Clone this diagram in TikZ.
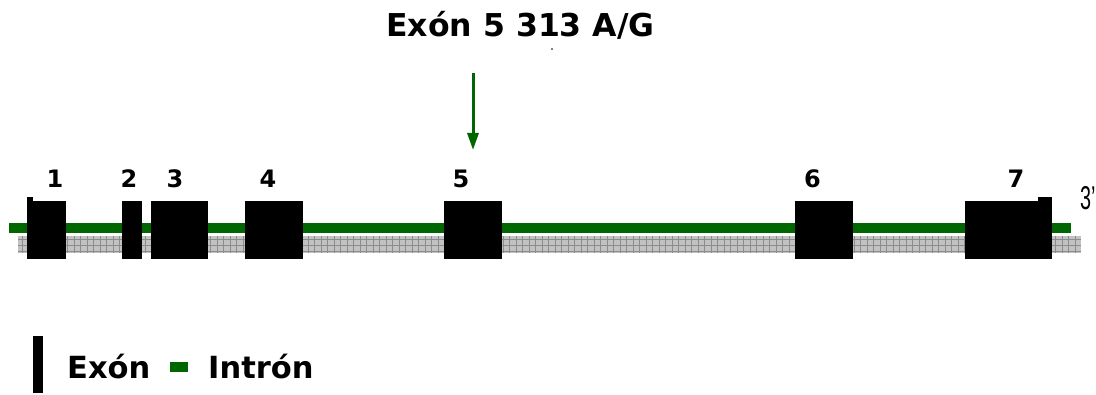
\documentclass[tikz,border=0pt]{standalone}
\usepackage{fontspec}
\setmainfont{DejaVu Sans}
\newfontfamily\narrowfont{Liberation Sans}
\usetikzlibrary{arrows.meta}
\definecolor{igreen}{RGB}{0,102,0}
\definecolor{hgray}{RGB}{194,194,194}
\definecolor{hline}{RGB}{140,140,140}
\begin{document}
\begin{tikzpicture}[x=1pt,y=-1pt,
  exon/.style={fill=black, draw=none, inner sep=0pt, minimum height=58pt},
  num/.style={font=\fontsize{24}{24}\selectfont\bfseries, anchor=base, inner sep=0pt},
  big/.style={font=\fontsize{31.5}{31.5}\selectfont\bfseries, inner sep=0pt},
  leg/.style={font=\fontsize{30.5}{30.5}\selectfont\bfseries, inner sep=0pt}]
\useasboundingbox (0,0) rectangle (1096,395);
% grey hatched band
\fill[hgray] (18,236) rectangle (1081,253);
\foreach \x in {22,28.5,...,1080} \draw[hline, line width=0.6pt] (\x,236) -- (\x,253);
\foreach \y in {239,245,251} \draw[hline, line width=0.6pt] (18,\y) -- (1081,\y);
% intron line
\fill[igreen] (9,223) rectangle (1071,233);
% exons
\node[exon, minimum width=39pt] (e1) at (46.5,230) {};
\fill (27,197) rectangle (33,201);
\node[exon, minimum width=20pt] (e2) at (132,230) {};
\node[exon, minimum width=57pt] (e3) at (179.5,230) {};
\node[exon, minimum width=58pt] (e4) at (274,230) {};
\node[exon, minimum width=58pt] (e5) at (473,230) {};
\node[exon, minimum width=58pt] (e6) at (824,230) {};
\node[exon, minimum width=87pt] (e7) at (1008.5,230) {};
\fill (1038,197) rectangle (1052,201);
% labels
\node[num] (l1) at (55,188) {1};
\node[num] (l2) at (129,188) {2};
\node[num] (l3) at (175,188) {3};
\node[num] (l4) at (268,188) {4};
\node[num] (l5) at (461,188) {5};
\node[num] (l6) at (812.5,188) {6};
\node[num] (l7) at (1016,188) {7};
\node[anchor=base west, inner sep=0pt, font=\narrowfont\fontsize{33}{33}\selectfont] (tp) at (1080,210) {\scalebox{0.6}[1]{3’}};
% title and arrow
\node[big, anchor=base] (title) at (520.5,37) {Exón 5 313 A/G};
\fill (552,49) circle (0.8);
\coordinate (arrS) at (473,73);
\coordinate (arrE) at (473,150);
\draw[igreen, line width=3pt, -{Triangle[width=11pt,length=17pt]}] (arrS) -- (arrE);
% legend
\fill (33,336) rectangle (43,393);
\node[leg, anchor=base west] (lex) at (67,379) {Exón};
\fill[igreen] (170,362) rectangle (188,372);
\node[leg, anchor=base west] (lin) at (208,379) {Intrón};
\end{tikzpicture}
\end{document}
